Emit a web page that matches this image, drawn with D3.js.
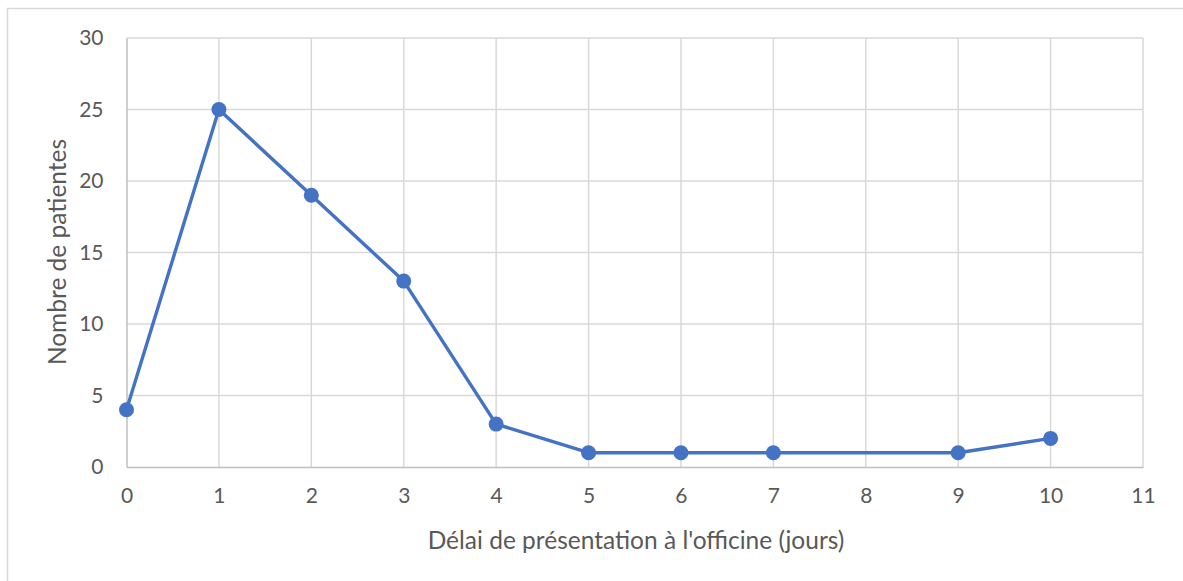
<!DOCTYPE html>
<html>
<head>
<meta charset="utf-8">
<script src="https://cdn.jsdelivr.net/npm/d3@7"></script>
<style>
  body { margin: 0; background: #fff; }
  svg { display: block; font-family: Lato, "Open Sans", sans-serif; }
</style>
</head>
<body>
<div id="chart"></div>
<script>
// data (no point at day 8)
var days = [0, 1, 2, 3, 4, 5, 6, 7, 9, 10];
var patients = [4, 25, 19, 13, 3, 1, 1, 1, 1, 2];
var xTicks = [0, 1, 2, 3, 4, 5, 6, 7, 8, 9, 10, 11];
var yTicks = [0, 5, 10, 15, 20, 25, 30];

var svgWidth = 1183, svgHeight = 581;
var margin = {top: 38, right: 40, bottom: 114, left: 126.5};
var width = 1143 - margin.left;
var height = svgHeight - margin.top - margin.bottom;

var svg = d3.select("#chart").append("svg")
    .attr("width", svgWidth).attr("height", svgHeight);

// outer chart border
svg.append("rect")
    .attr("x", 7.5).attr("y", 8.5)
    .attr("width", svgWidth).attr("height", svgHeight)
    .attr("fill", "none").attr("stroke", "#d9d9d9").attr("stroke-width", 1.5);

var g = svg.append("g")
    .attr("transform", "translate(" + margin.left + " " + margin.top + ")");

var x = d3.scaleLinear().domain([0, 11]).range([0, width]);
var y = d3.scaleLinear().domain([0, 30]).range([height, 0]);

// grid lines
g.append("g").selectAll("line")
    .data(xTicks.slice(1)).enter().append("line")
    .attr("x1", function(d) { return x(d); }).attr("x2", function(d) { return x(d); })
    .attr("y1", 0).attr("y2", height)
    .attr("stroke", "#d9d9d9").attr("stroke-width", 1.5);
g.append("g").selectAll("line")
    .data(yTicks.slice(1)).enter().append("line")
    .attr("x1", 0).attr("x2", width)
    .attr("y1", function(d) { return y(d); }).attr("y2", function(d) { return y(d); })
    .attr("stroke", "#d9d9d9").attr("stroke-width", 1.5);

// axes
var xAxis = g.append("g")
    .attr("transform", "translate(0 " + height + ")")
    .call(d3.axisBottom(x).tickValues(xTicks).tickSize(0).tickPadding(21));
var yAxis = g.append("g")
    .call(d3.axisLeft(y).tickValues(yTicks).tickSize(0).tickPadding(23));
[xAxis, yAxis].forEach(function(a) {
    a.attr("font-family", null).attr("font-size", null);
    a.select(".domain").attr("stroke", "#bfbfbf").attr("stroke-width", 1.5);
    a.selectAll("text")
        .style("font-size", "21px").style("font-family", "Lato, sans-serif")
        .attr("fill", "#595959");
});

// axis titles
svg.append("text")
    .attr("x", 636).attr("y", 549)
    .attr("text-anchor", "middle")
    .style("font-size", "24.5px").attr("fill", "#595959")
    .text("Délai de présentation à l'officine (jours)");
svg.append("text")
    .attr("transform", "translate(66 252) rotate(-90)")
    .attr("text-anchor", "middle")
    .style("font-size", "24.5px").attr("fill", "#595959")
    .text("Nombre de patientes");

// line + markers
var pts = days.map(function(d, i) { return {x: d, y: patients[i]}; });
var line = d3.line()
    .x(function(d) { return x(d.x); })
    .y(function(d) { return y(d.y); });

g.append("path")
    .datum(pts)
    .attr("d", line)
    .attr("fill", "none")
    .attr("stroke", "#4472c4")
    .attr("stroke-width", 3.4)
    .attr("stroke-linejoin", "round");

g.append("g").selectAll("circle")
    .data(pts).enter().append("circle")
    .attr("cx", function(d) { return x(d.x); })
    .attr("cy", function(d) { return y(d.y); })
    .attr("r", 7.5)
    .attr("fill", "#4472c4");
</script>
</body>
</html>
